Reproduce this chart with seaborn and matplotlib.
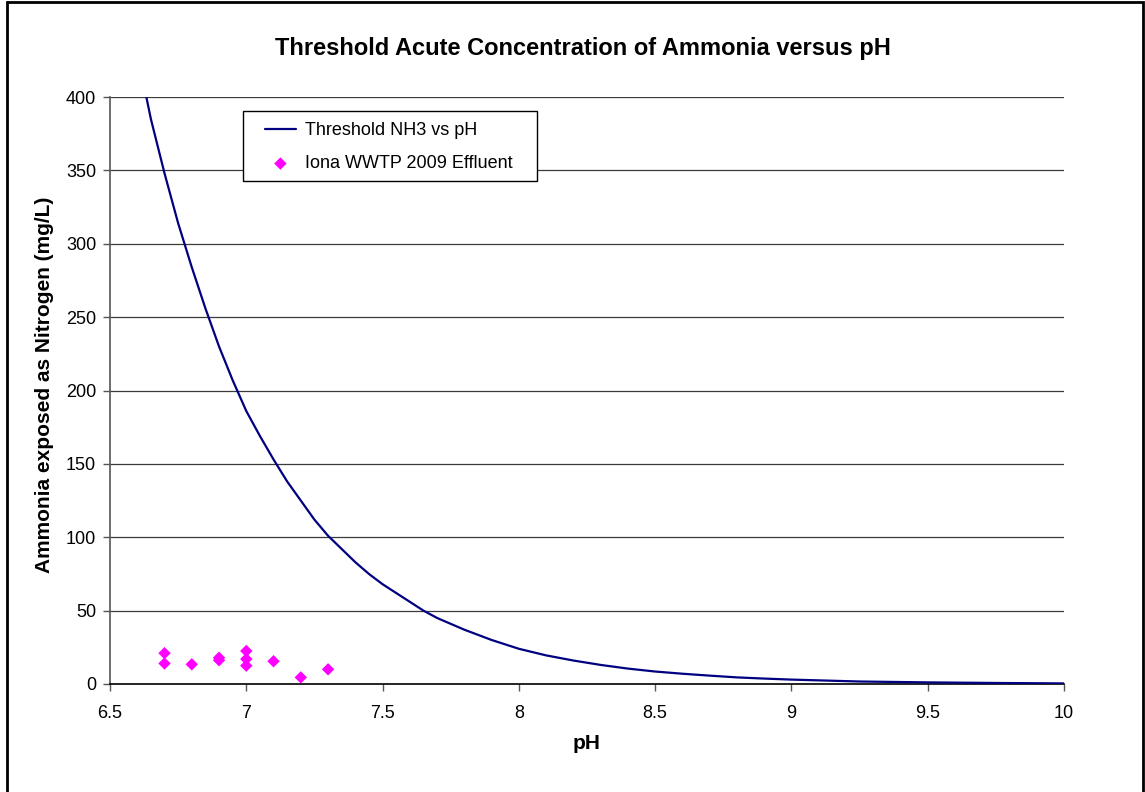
import matplotlib
matplotlib.use("Agg")
import matplotlib.pyplot as plt
import seaborn as sns
import pandas as pd
from matplotlib.patches import Rectangle

# Threshold curve
curve_ph = [6.63, 6.65, 6.7, 6.75, 6.8, 6.85, 6.9, 6.95, 7.0, 7.05, 7.1, 7.15,
            7.2, 7.25, 7.3, 7.35, 7.4, 7.45, 7.5, 7.55, 7.6, 7.65, 7.7, 7.75,
            7.8, 7.9, 8.0, 8.1, 8.2, 8.3, 8.4, 8.5, 8.6, 8.7, 8.8, 8.9, 9.0,
            9.25, 9.5, 9.75, 10.0]
curve_nh3 = [403, 385, 348, 314, 284, 256, 230, 207, 186, 169, 153, 138,
             125, 112, 101, 92, 83, 75, 68, 62, 56, 50, 45, 41,
             37, 30, 24, 19.5, 16, 13, 10.5, 8.5, 7, 5.7, 4.5, 3.7, 3,
             1.7, 1.1, 0.7, 0.4]

# Iona WWTP 2009 effluent samples
eff_ph = [6.7, 6.7, 6.8, 6.9, 6.9, 7.0, 7.0, 7.0, 7.1, 7.2, 7.3]
eff_nh3 = [21, 14, 13.4, 17.9, 16.2, 22.5, 17, 12.5, 15.5, 4.5, 10]

x_ticks = [6.5, 7, 7.5, 8, 8.5, 9, 9.5, 10]
x_tick_labels = ["6.5", "7", "7.5", "8", "8.5", "9", "9.5", "10"]
y_ticks = [0, 50, 100, 150, 200, 250, 300, 350, 400]

title = "Threshold Acute Concentration of Ammonia versus pH"
xlabel = "pH"
ylabel = "Ammonia exposed as Nitrogen (mg/L)"
curve_label = "Threshold NH3 vs pH"
eff_label = "Iona WWTP 2009 Effluent"

sns.set_style("white")
plt.rcParams["font.family"] = ["Liberation Sans", "DejaVu Sans"]
plt.rcParams["text.color"] = "black"
plt.rcParams["axes.labelcolor"] = "black"

W, H = 1145, 792
AX_L, AX_R, AX_T, AX_B = 110, 1064, 97, 684
fig = plt.figure(figsize=(W / 100, H / 100), dpi=100)
ax = fig.add_axes([AX_L / W, 1 - AX_B / H, (AX_R - AX_L) / W, (AX_B - AX_T) / H])


def ax_x(px):
    return (px - AX_L) / (AX_R - AX_L)


def ax_y(py):
    return (AX_B - py) / (AX_B - AX_T)


df_curve = pd.DataFrame({"pH": curve_ph, "NH3": curve_nh3})
df_eff = pd.DataFrame({"pH": eff_ph, "NH3": eff_nh3})

for yv in y_ticks[1:]:
    ax.axhline(yv, color="#3a3a3a", lw=0.9, zorder=0)

sns.lineplot(data=df_curve, x="pH", y="NH3", ax=ax, color="#000080", lw=1.6,
             label=curve_label, zorder=3, sort=False)
sns.scatterplot(data=df_eff, x="pH", y="NH3", ax=ax, color="#FF00FF", marker="D",
                s=40, edgecolor="none", label=eff_label, zorder=4, clip_on=False)

ax.set_xlim(6.5, 10)
ax.set_ylim(0, 400)
ax.set_xticks(x_ticks)
ax.set_xticklabels(x_tick_labels)
ax.set_yticks(y_ticks)
ax.tick_params(axis="both", direction="out", length=5, width=1, labelsize=13,
               color="#555555", labelcolor="black", bottom=True, left=True)
ax.tick_params(axis="x", pad=10)
ax.tick_params(axis="y", pad=5)
for side in ["top", "right"]:
    ax.spines[side].set_visible(False)
ax.spines["bottom"].set_color("black")
ax.spines["bottom"].set_linewidth(1.2)
ax.spines["left"].set_color("#555555")
ax.spines["left"].set_linewidth(1.2)

ax.set_xlabel(xlabel, fontsize=15, fontweight="bold", labelpad=9)
ax.set_ylabel(ylabel, fontsize=15, fontweight="bold")
ax.yaxis.set_label_coords(ax_x(54), ax_y(384.5))

fig.text(583 / W, 1 - 48 / H, title, ha="center", va="center",
         fontsize=17, fontweight="bold")

# legend box
ax.add_patch(Rectangle((ax_x(243), ax_y(181)), ax_x(537) - ax_x(243),
                       ax_y(111) - ax_y(181), transform=ax.transAxes,
                       facecolor="white", edgecolor="black", lw=1.0,
                       zorder=5, clip_on=False))
leg = ax.legend(loc="upper left", bbox_to_anchor=(ax_x(256), ax_y(113)),
                borderaxespad=0, fontsize=13, frameon=False,
                handlelength=1.7, handletextpad=0.5,
                borderpad=0.5, labelspacing=0.9)
leg.set_zorder(6)

fig.patches.append(Rectangle((7 / W, -0.02), (1143 - 7) / W, 1.02 - 1.5 / H,
                             transform=fig.transFigure, fill=False,
                             edgecolor="black", lw=2))

fig.savefig("out.png", dpi=100)
